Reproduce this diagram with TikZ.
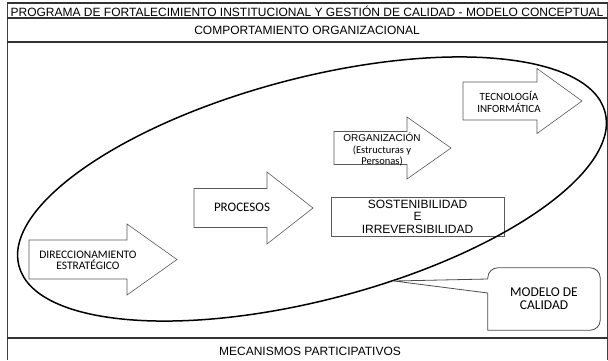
\documentclass[tikz,border=0pt]{standalone}
\usepackage{fontspec}
\setmainfont{Liberation Sans}
\newfontfamily\calib{Carlito}

\tikzset{hdr/.style = {font=\fontsize{12}{14}\selectfont,
                       inner sep=0pt},
         rule/.style = {draw=black!80, line width=1.4pt},
         barrow/.style = {draw=black!65, fill=white, line width=0.6pt},
         calbox/.style = {draw=black!70, line width=0.8pt},
         atext/.style = {align=center, inner sep=0pt},
         oval/.style = {draw=black, line width=1.5pt}}

% block arrow: left x, neck x, tip x, mid y, body half, head half
\newcommand{\blockarrow}[6]{%
  \draw[barrow] (#1,#4-#5) -- (#2,#4-#5) -- (#2,#4-#6) -- (#3,#4)
     -- (#2,#4+#6) -- (#2,#4+#5) -- (#1,#4+#5) -- cycle;}

\begin{document}
\begin{tikzpicture}[x=1pt, y=-1pt]
	\useasboundingbox (0,0) rectangle (608,360);
	% frame
	\draw[draw=black!75, line width=0.8pt] (7,3) -- (7,360);
	\draw[draw=black!75, line width=0.8pt] (607,3) -- (607,360);
	\draw[rule] (7,3) -- (608,3);
	\draw[rule] (7,18) -- (608,18);
	\draw[rule] (7,42) -- (608,42);
	\draw[rule] (7,338) -- (608,338);
	\node[hdr] (titulo) at (307,11) {PROGRAMA DE FORTALECIMIENTO INSTITUCIONAL Y GESTIÓN DE CALIDAD - MODELO CONCEPTUAL};
	\node[hdr] (comport) at (307,30) {COMPORTAMIENTO ORGANIZACIONAL};
	\node[hdr] (mecan) at (310,351) {MECANISMOS PARTICIPATIVOS};
	% arrows
	\blockarrow{29}{127}{177}{259.5}{19.5}{35.5}
	\blockarrow{194}{267}{313}{208}{19.5}{36}
	\blockarrow{334}{407}{451}{148}{16.5}{31}
	\blockarrow{463}{537}{582}{101}{19}{32.5}
	\node[atext, font=\calib\fontsize{11.5}{11}\selectfont] (direc) at (88,260.5) {DIRECCIONAMIENTO\\ESTRATÉGICO};
	\node[atext, font=\calib\fontsize{13}{13}\selectfont] (proc) at (242,207) {PROCESOS};
	\node[atext, font=\fontsize{10}{11.5}\selectfont] (organ) at (382,149.5) {ORGANIZACIÓN\\{\calib\fontsize{10.5}{11.5}\selectfont (Estructuras y}\\{\calib\fontsize{10.5}{11.5}\selectfont Personas)}};
	\node[atext, font=\calib\fontsize{11}{11.5}\selectfont] (tecno) at (509,102) {TECNOLOGÍA\\INFORMÁTICA};
	\node[atext, draw=black!65, line width=0.6pt, minimum width=173pt, minimum height=39pt,
	      font=\fontsize{12}{12.5}\selectfont] (sost) at (417.5,216.5) {SOSTENIBILIDAD\\E\\IRREVERSIBILIDAD};
	% quality model
	\draw[oval, rotate around={14.7:(312,189)}] (312,189) ellipse [x radius=303, y radius=111];
	\node[atext, minimum width=112pt, minimum height=62pt,
	      font=\calib\fontsize{13.5}{13}\selectfont] (modelo) at (544,299) {MODELO DE\\CALIDAD};
	\coordinate (punta) at (394,281);
	\draw[calbox] ([yshift=20pt]modelo.west) -- (punta) -- ([yshift=6pt]modelo.west)
	   -- (modelo.south west) [rounded corners=10pt] -- (modelo.south east)
	   -- (modelo.north east) -- (modelo.north west) -- ([yshift=20pt]modelo.west);
\end{tikzpicture}
\end{document}
